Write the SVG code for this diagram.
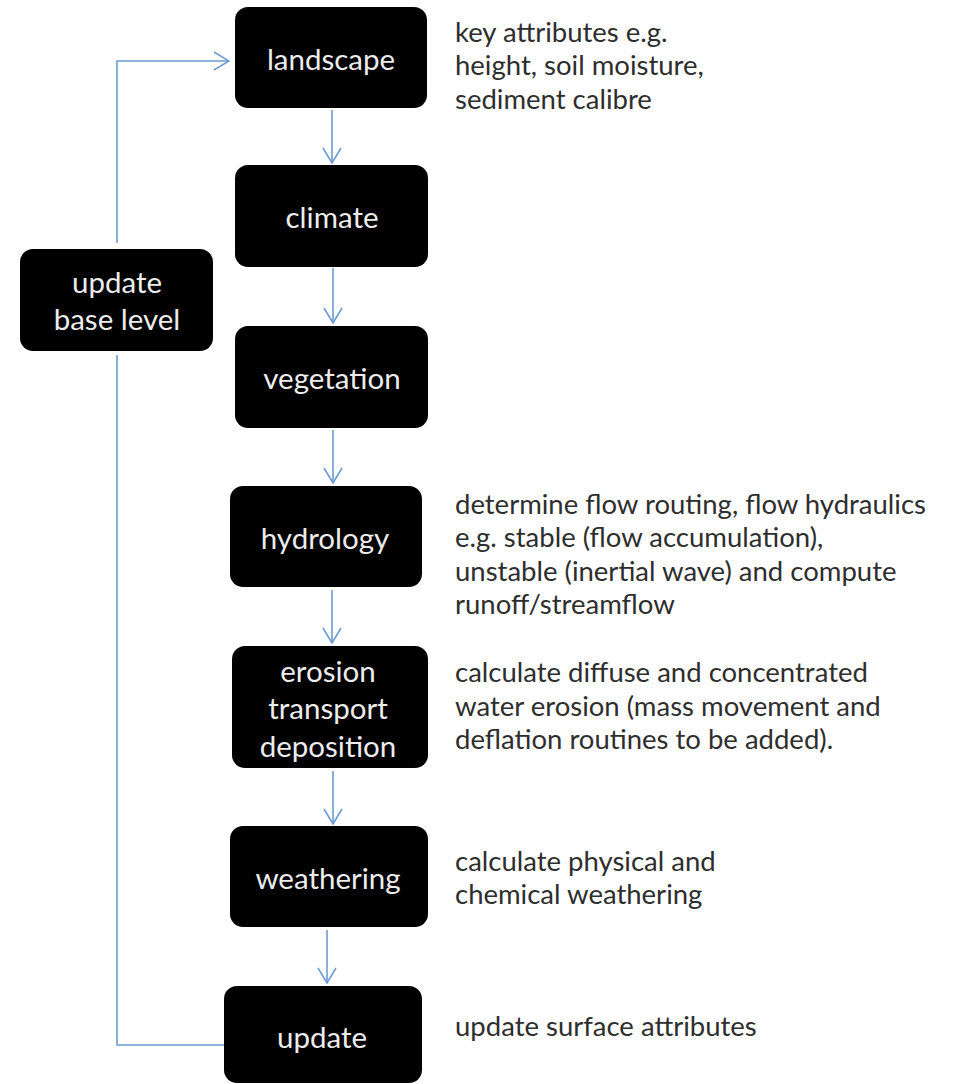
<svg xmlns="http://www.w3.org/2000/svg" width="956" height="1084" viewBox="0 0 956 1084">
<defs>
<style>
.box{fill:#000;}
.nt{font-family:Lato,"Liberation Sans",sans-serif;font-size:29.5px;fill:#ececec;text-anchor:middle;dominant-baseline:central;}
.dt{font-family:Lato,"Liberation Sans",sans-serif;font-size:27.5px;fill:#2e2e2e;dominant-baseline:central;}
.ln{fill:none;stroke:#6e9ccf;stroke-width:1.6;}
</style>
<marker id="ah" markerUnits="userSpaceOnUse" viewBox="0 0 17 20" refX="16" refY="10" markerWidth="17" markerHeight="20" orient="auto">
<path d="M1,1 L16,10 L1,19" fill="none" stroke="#6e9ccf" stroke-width="1.6"/>
</marker>
</defs>
<rect width="956" height="1084" fill="#fff"/>
<g id="connectors">
<line class="ln" x1="332" y1="110" x2="332" y2="163" marker-end="url(#ah)"/>
<line class="ln" x1="333" y1="268" x2="333" y2="323" marker-end="url(#ah)"/>
<line class="ln" x1="333" y1="430" x2="333" y2="483" marker-end="url(#ah)"/>
<line class="ln" x1="332" y1="590" x2="332" y2="643" marker-end="url(#ah)"/>
<line class="ln" x1="333" y1="771" x2="333" y2="824" marker-end="url(#ah)"/>
<line class="ln" x1="327" y1="930" x2="327" y2="983" marker-end="url(#ah)"/>
<polyline class="ln" points="224,1045 117,1045 117,355"/>
<polyline class="ln" points="117,243 117,61 229,61" marker-end="url(#ah)"/>
</g>
<g id="landscape"><rect class="box" x="235" y="7" width="192" height="101" rx="13"/><text class="nt" x="331" y="58">landscape</text></g>
<g id="climate"><rect class="box" x="235" y="165" width="193" height="102" rx="13"/><text class="nt" x="332" y="216">climate</text></g>
<g id="base-level"><rect class="box" x="20" y="249" width="193" height="102" rx="13"/><text class="nt" x="117" y="281">update</text><text class="nt" x="117" y="318">base level</text></g>
<g id="vegetation"><rect class="box" x="235" y="326" width="193" height="102" rx="13"/><text class="nt" x="332" y="377">vegetation</text></g>
<g id="hydrology"><rect class="box" x="230" y="486" width="192" height="101" rx="13"/><text class="nt" x="325" y="537">hydrology</text></g>
<g id="erosion"><rect class="box" x="232" y="646" width="196" height="122" rx="13"/><text class="nt" x="328" y="670">erosion</text><text class="nt" x="328" y="707">transport</text><text class="nt" x="328" y="745">deposition</text></g>
<g id="weathering"><rect class="box" x="230" y="826" width="198" height="101" rx="13"/><text class="nt" x="328" y="877">weathering</text></g>
<g id="update"><rect class="box" x="224" y="986" width="198" height="97" rx="13"/><text class="nt" x="322" y="1036">update</text></g>
<g id="notes">
<text class="dt" x="455" y="31">key attributes e.g.</text>
<text class="dt" x="455" y="64">height, soil moisture,</text>
<text class="dt" x="455" y="98">sediment calibre</text>
<text class="dt" x="455" y="503">determine flow routing, flow hydraulics</text>
<text class="dt" x="455" y="536">e.g. stable (flow accumulation),</text>
<text class="dt" x="455" y="570">unstable (inertial wave) and compute</text>
<text class="dt" x="455" y="603">runoff/streamflow</text>
<text class="dt" x="455" y="671">calculate diffuse and concentrated</text>
<text class="dt" x="455" y="705">water erosion (mass movement and</text>
<text class="dt" x="455" y="738">deflation routines to be added).</text>
<text class="dt" x="455" y="860">calculate physical and</text>
<text class="dt" x="455" y="893">chemical weathering</text>
<text class="dt" x="455" y="1025">update surface attributes</text>
</g>
</svg>
